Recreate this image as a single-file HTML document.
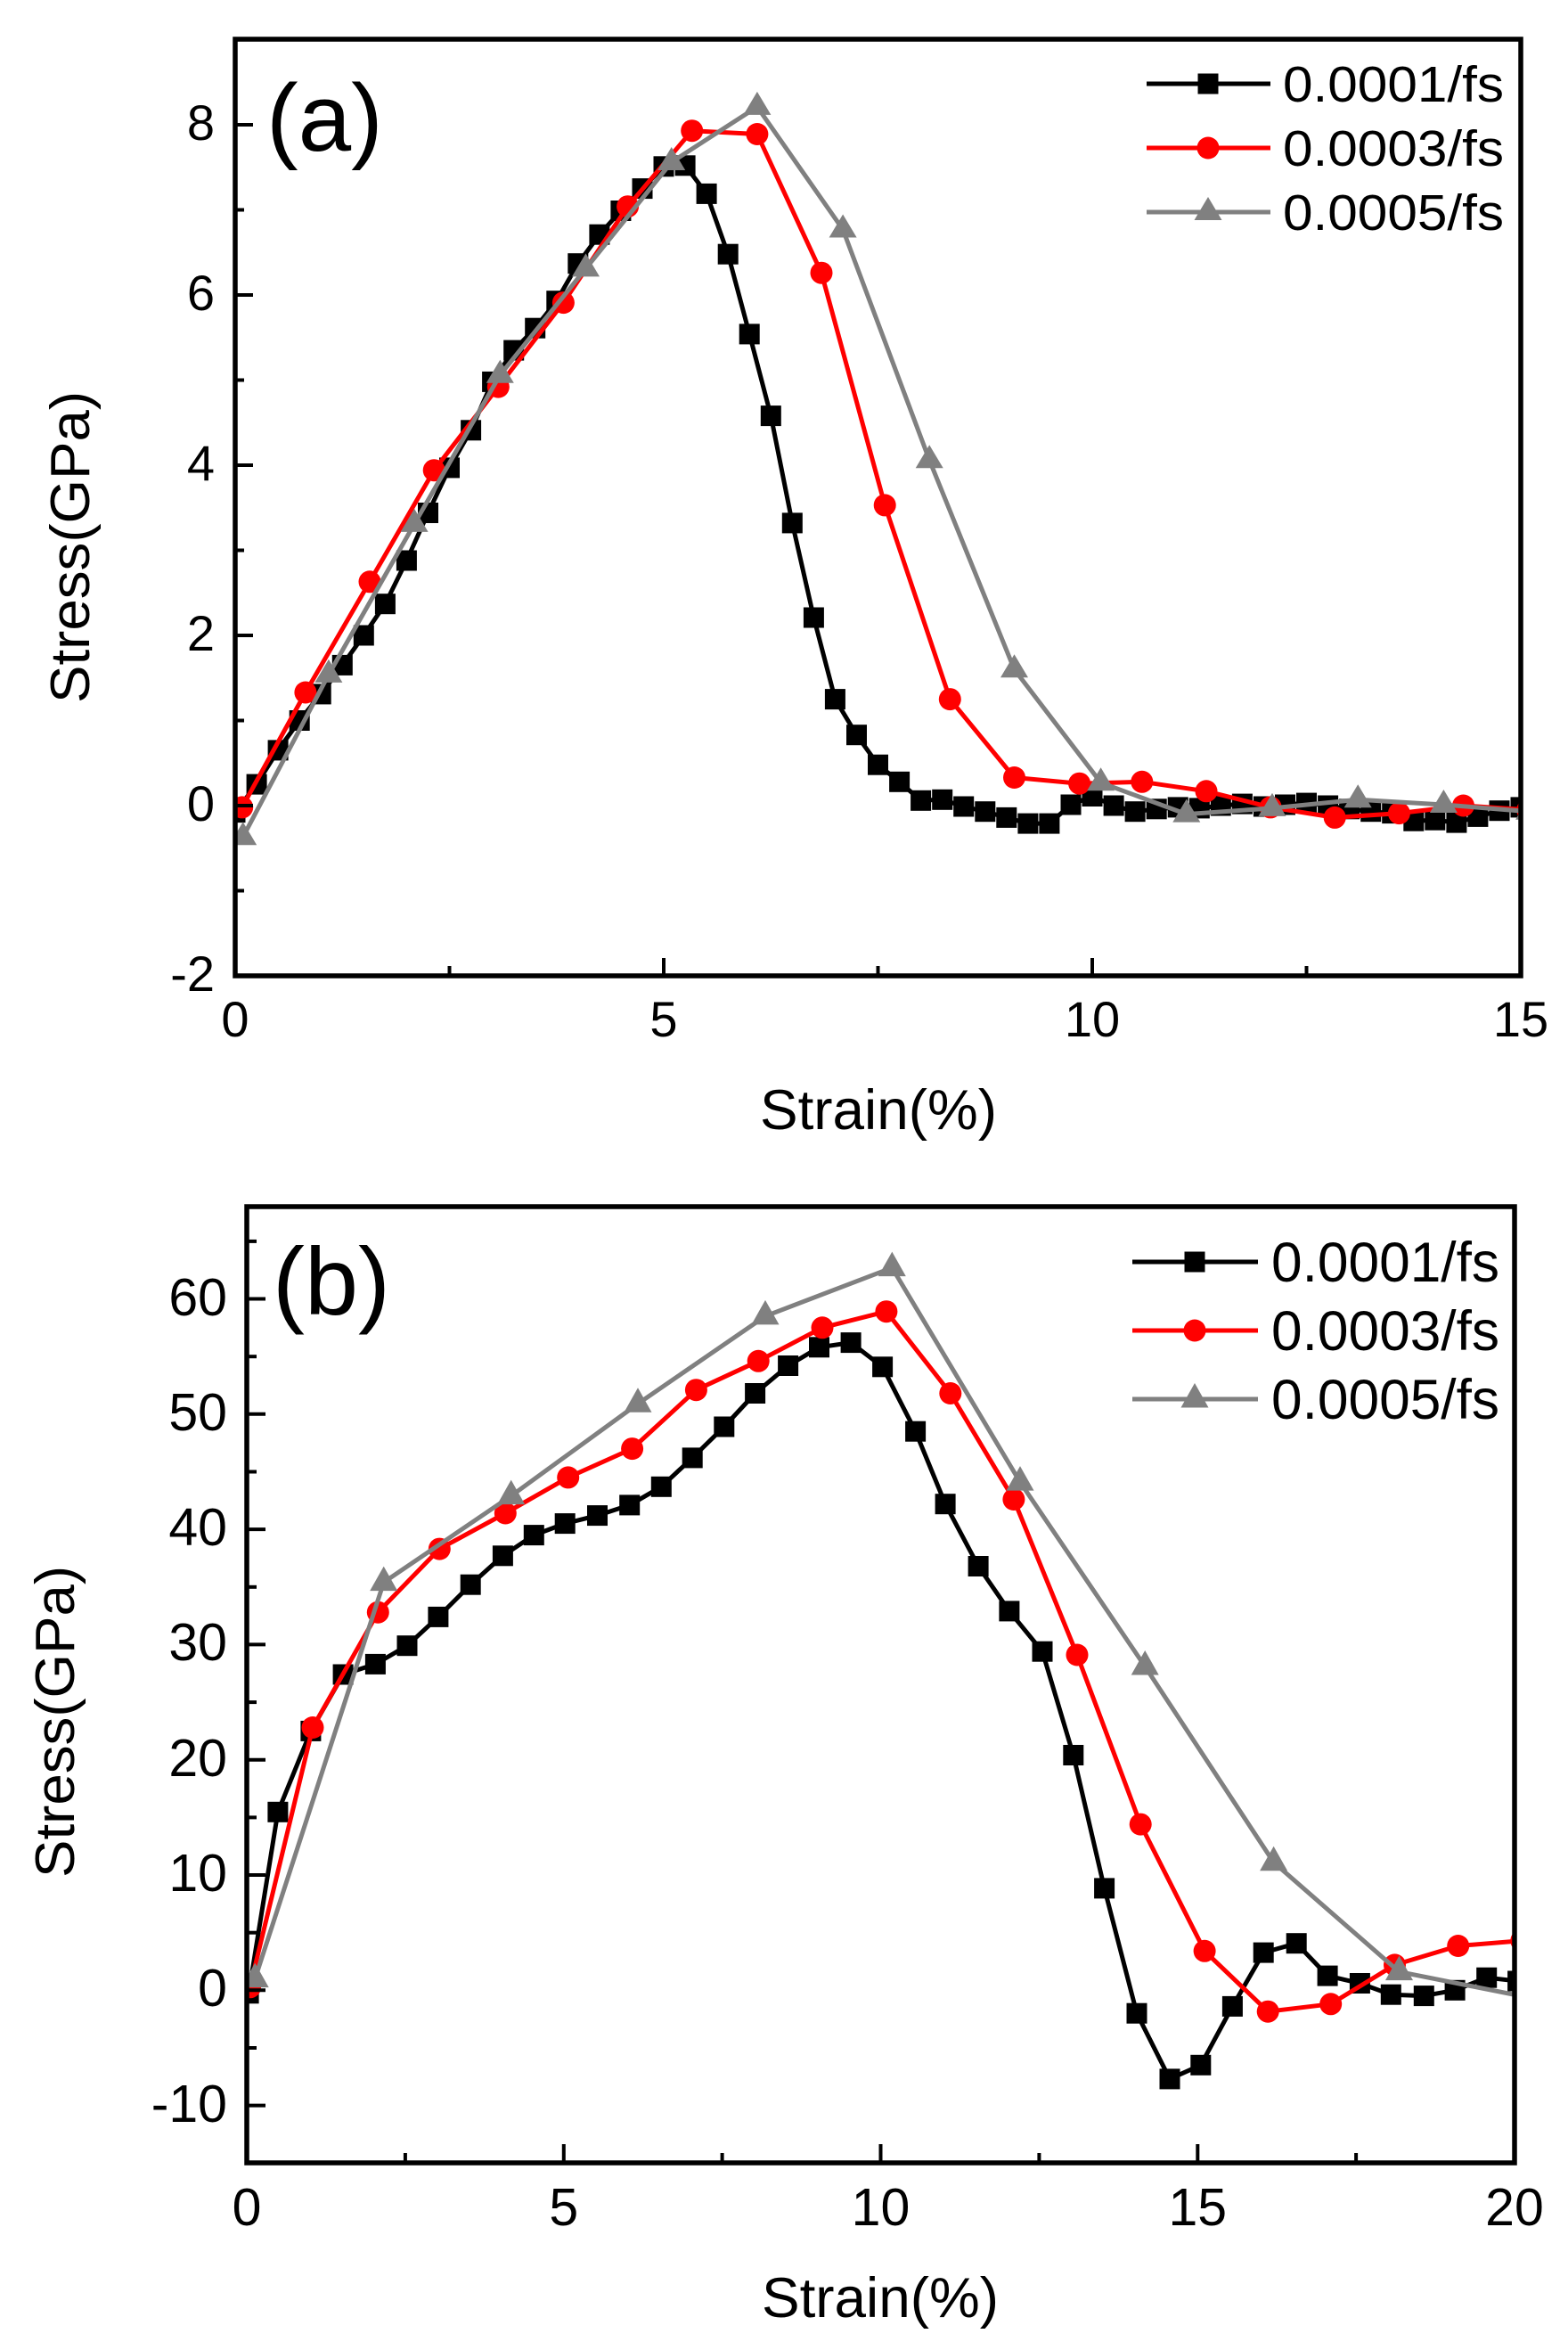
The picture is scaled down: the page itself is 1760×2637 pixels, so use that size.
<!DOCTYPE html>
<html>
<head>
<meta charset="utf-8">
<style>
html,body{margin:0;padding:0;background:#fff;}
svg{display:block;}
text{font-family:"Liberation Sans",Arial,sans-serif;fill:#000;}
</style>
</head>
<body>
<svg width="1760" height="2637" viewBox="0 0 1760 2637" xmlns="http://www.w3.org/2000/svg">
<defs>
  <g id="sq"><rect x="-11.5" y="-11.5" width="23" height="23" fill="#000"/></g>
  <g id="ci"><circle cx="0" cy="0" r="12.5" fill="#ff0000"/></g>
  <g id="tr"><path d="M0,-17 L15.5,9 L-15.5,9 Z" fill="#808080"/></g>
  <g id="trb"><path d="M0,-18 L15.5,9.5 L-15.5,9.5 Z" fill="#808080"/></g>
  <clipPath id="clipA"><rect x="264" y="44" width="1443" height="1051"/></clipPath>
  <clipPath id="clipB"><rect x="277" y="1354" width="1423" height="1073"/></clipPath>
</defs>
<rect x="0" y="0" width="1760" height="2637" fill="#fff"/>

<!-- ================= PANEL A ================= -->
<g clip-path="url(#clipA)">
  <!-- black 0.0001 -->
  <polyline fill="none" stroke="#000" stroke-width="5" stroke-linejoin="round" points="
264,911.6 288.1,880.1 312.1,841.9 336.2,808.5 360.2,778.9 384.3,746.4 408.3,713 432.4,677.7 456.4,629 480.5,575.5
504.5,524.9 528.6,482.8 552.6,428.4 576.7,393.1 600.7,368.2 624.8,337.7 648.8,295.7 672.9,263.2 696.9,236.5 721,211.6
745,186.8 769.1,185.8 793.1,217.4 817.2,285.2 841.2,374.9 865.3,466.6 889.3,586.9 913.4,693 937.4,784.6 961.5,824.7
985.5,858.2 1009.6,877.3 1033.6,898.3 1057.7,897.3 1081.7,905 1105.8,910.7 1129.8,917.4 1153.9,924.1 1177.9,924.1 1202,903
1226,893.5 1250.1,904 1274.1,910.7 1298.2,907.8 1322.2,905.9 1346.3,906.9 1370.3,904 1394.4,902.1 1418.4,905 1442.5,903
1466.5,901.1 1490.6,904 1514.6,907.8 1538.7,910.7 1562.7,912.6 1586.8,921.2 1610.8,920.2 1634.9,923.1 1658.9,916.4 1683,909.7 1707,905.9"/>
  <g>
    <use href="#sq" x="264" y="911.6"/><use href="#sq" x="288.1" y="880.1"/><use href="#sq" x="312.1" y="841.9"/><use href="#sq" x="336.2" y="808.5"/><use href="#sq" x="360.2" y="778.9"/>
    <use href="#sq" x="384.3" y="746.4"/><use href="#sq" x="408.3" y="713"/><use href="#sq" x="432.4" y="677.7"/><use href="#sq" x="456.4" y="629"/><use href="#sq" x="480.5" y="575.5"/>
    <use href="#sq" x="504.5" y="524.9"/><use href="#sq" x="528.6" y="482.8"/><use href="#sq" x="552.6" y="428.4"/><use href="#sq" x="576.7" y="393.1"/><use href="#sq" x="600.7" y="368.2"/>
    <use href="#sq" x="624.8" y="337.7"/><use href="#sq" x="648.8" y="295.7"/><use href="#sq" x="672.9" y="263.2"/><use href="#sq" x="696.9" y="236.5"/><use href="#sq" x="721" y="211.6"/>
    <use href="#sq" x="745" y="186.8"/><use href="#sq" x="769.1" y="185.8"/><use href="#sq" x="793.1" y="217.4"/><use href="#sq" x="817.2" y="285.2"/><use href="#sq" x="841.2" y="374.9"/>
    <use href="#sq" x="865.3" y="466.6"/><use href="#sq" x="889.3" y="586.9"/><use href="#sq" x="913.4" y="693"/><use href="#sq" x="937.4" y="784.6"/><use href="#sq" x="961.5" y="824.7"/>
    <use href="#sq" x="985.5" y="858.2"/><use href="#sq" x="1009.6" y="877.3"/><use href="#sq" x="1033.6" y="898.3"/><use href="#sq" x="1057.7" y="897.3"/><use href="#sq" x="1081.7" y="905"/>
    <use href="#sq" x="1105.8" y="910.7"/><use href="#sq" x="1129.8" y="917.4"/><use href="#sq" x="1153.9" y="924.1"/><use href="#sq" x="1177.9" y="924.1"/><use href="#sq" x="1202" y="903"/>
    <use href="#sq" x="1226" y="893.5"/><use href="#sq" x="1250.1" y="904"/><use href="#sq" x="1274.1" y="910.7"/><use href="#sq" x="1298.2" y="907.8"/><use href="#sq" x="1322.2" y="905.9"/>
    <use href="#sq" x="1346.3" y="906.9"/><use href="#sq" x="1370.3" y="904"/><use href="#sq" x="1394.4" y="902.1"/><use href="#sq" x="1418.4" y="905"/><use href="#sq" x="1442.5" y="903"/>
    <use href="#sq" x="1466.5" y="901.1"/><use href="#sq" x="1490.6" y="904"/><use href="#sq" x="1514.6" y="907.8"/><use href="#sq" x="1538.7" y="910.7"/><use href="#sq" x="1562.7" y="912.6"/>
    <use href="#sq" x="1586.8" y="921.2"/><use href="#sq" x="1610.8" y="920.2"/><use href="#sq" x="1634.9" y="923.1"/><use href="#sq" x="1658.9" y="916.4"/><use href="#sq" x="1683" y="909.7"/><use href="#sq" x="1707" y="905.9"/>
  </g>
  <!-- red 0.0003 -->
  <polyline fill="none" stroke="#ff0000" stroke-width="5" stroke-linejoin="round" points="
271.7,905.9 342.9,777 415,652.8 487.2,527.7 559.3,434.1 632.4,339.6 704.6,231.7 776.7,146.7 849.9,150.5 922,306.2
993.2,566.9 1066.3,784.6 1138.5,872.5 1211.6,879.2 1281.8,877.3 1354,887.8 1426.1,905.9 1498.2,917.4 1570.4,912.6 1642.5,904 1714.7,908.8"/>
  <g>
    <use href="#ci" x="271.7" y="905.9"/><use href="#ci" x="342.9" y="777"/><use href="#ci" x="415" y="652.8"/><use href="#ci" x="487.2" y="527.7"/><use href="#ci" x="559.3" y="434.1"/>
    <use href="#ci" x="632.4" y="339.6"/><use href="#ci" x="704.6" y="231.7"/><use href="#ci" x="776.7" y="146.7"/><use href="#ci" x="849.9" y="150.5"/><use href="#ci" x="922" y="306.2"/>
    <use href="#ci" x="993.2" y="566.9"/><use href="#ci" x="1066.3" y="784.6"/><use href="#ci" x="1138.5" y="872.5"/><use href="#ci" x="1211.6" y="879.2"/><use href="#ci" x="1281.8" y="877.3"/>
    <use href="#ci" x="1354" y="887.8"/><use href="#ci" x="1426.1" y="905.9"/><use href="#ci" x="1498.2" y="917.4"/><use href="#ci" x="1570.4" y="912.6"/><use href="#ci" x="1642.5" y="904"/><use href="#ci" x="1714.7" y="908.8"/>
  </g>
  <!-- gray 0.0005 -->
  <polyline fill="none" stroke="#808080" stroke-width="5" stroke-linejoin="round" points="
272.7,939.3 368.9,756.9 465.1,587.9 561.3,420.8 657.5,301.4 753.7,182 849.9,119.9 946.1,257.5 1043.2,516.3 1138.5,751.2
1235.6,878.2 1331.8,913.6 1428,906.9 1524.2,897.3 1620.4,903 1716.6,910.7"/>
  <g>
    <use href="#tr" x="272.7" y="939.3"/><use href="#tr" x="368.9" y="756.9"/><use href="#tr" x="465.1" y="587.9"/><use href="#tr" x="561.3" y="420.8"/><use href="#tr" x="657.5" y="301.4"/>
    <use href="#tr" x="753.7" y="182"/><use href="#tr" x="849.9" y="119.9"/><use href="#tr" x="946.1" y="257.5"/><use href="#tr" x="1043.2" y="516.3"/><use href="#tr" x="1138.5" y="751.2"/>
    <use href="#tr" x="1235.6" y="878.2"/><use href="#tr" x="1331.8" y="913.6"/><use href="#tr" x="1428" y="906.9"/><use href="#tr" x="1524.2" y="897.3"/><use href="#tr" x="1620.4" y="903"/><use href="#tr" x="1716.6" y="910.7"/>
  </g>
</g>

<!-- axes A -->
<g stroke="#000" stroke-width="4" fill="none">
  <!-- y major -->
  <line x1="264" y1="1095" x2="284" y2="1095"/><line x1="264" y1="904" x2="284" y2="904"/><line x1="264" y1="713" x2="284" y2="713"/>
  <line x1="264" y1="522" x2="284" y2="522"/><line x1="264" y1="331" x2="284" y2="331"/><line x1="264" y1="140" x2="284" y2="140"/>
  <!-- y minor -->
  <line x1="264" y1="999.5" x2="274" y2="999.5"/><line x1="264" y1="808.5" x2="274" y2="808.5"/><line x1="264" y1="617.5" x2="274" y2="617.5"/>
  <line x1="264" y1="426.5" x2="274" y2="426.5"/><line x1="264" y1="235.5" x2="274" y2="235.5"/>
  <!-- x major -->
  <line x1="745" y1="1095" x2="745" y2="1075"/><line x1="1226" y1="1095" x2="1226" y2="1075"/>
  <!-- x minor -->
  <line x1="504.5" y1="1095" x2="504.5" y2="1084"/><line x1="985.5" y1="1095" x2="985.5" y2="1084"/><line x1="1466.5" y1="1095" x2="1466.5" y2="1084"/>
</g>
<rect x="264" y="44" width="1443" height="1051" fill="none" stroke="#000" stroke-width="5.5"/>

<!-- tick labels A -->
<g font-size="56" text-anchor="end">
  <text x="241" y="1112">-2</text>
  <text x="241" y="921">0</text>
  <text x="241" y="730">2</text>
  <text x="241" y="539">4</text>
  <text x="241" y="348">6</text>
  <text x="241" y="157">8</text>
</g>
<g font-size="56" text-anchor="middle">
  <text x="264" y="1163">0</text>
  <text x="745" y="1163">5</text>
  <text x="1226" y="1163">10</text>
  <text x="1707" y="1163">15</text>
</g>
<text x="986" y="1267" font-size="63" text-anchor="middle" textLength="266" lengthAdjust="spacingAndGlyphs">Strain(%)</text>
<text transform="translate(100,614) rotate(-90)" x="0" y="0" font-size="62" text-anchor="middle" textLength="350" lengthAdjust="spacingAndGlyphs">Stress(GPa)</text>
<text x="299" y="169" font-size="107">(a)</text>

<!-- legend A -->
<line x1="1287" y1="94" x2="1426" y2="94" stroke="#000" stroke-width="5"/>
<use href="#sq" x="1356" y="94"/>
<line x1="1287" y1="166" x2="1426" y2="166" stroke="#ff0000" stroke-width="5"/>
<use href="#ci" x="1356" y="166"/>
<line x1="1287" y1="238" x2="1426" y2="238" stroke="#808080" stroke-width="5"/>
<use href="#tr" x="1356" y="238"/>
<g font-size="57">
  <text x="1440" y="114" textLength="248" lengthAdjust="spacingAndGlyphs">0.0001/fs</text>
  <text x="1440" y="186" textLength="248" lengthAdjust="spacingAndGlyphs">0.0003/fs</text>
  <text x="1440" y="258" textLength="248" lengthAdjust="spacingAndGlyphs">0.0005/fs</text>
</g>

<!-- ================= PANEL B ================= -->
<g clip-path="url(#clipB)">
  <polyline fill="none" stroke="#000" stroke-width="5" stroke-linejoin="round" points="
279.1,2236.8 311.9,2033.3 348.9,1942.4 385.1,1879 421.4,1867.4 457,1846.7 491.9,1814.4 528.2,1778.2 564.4,1745.8 599.3,1722.6
634.2,1709.6 670.5,1700.6 706.7,1688.9 742.3,1668.3 777.2,1635.9 812.8,1601 847.6,1563.5 884.6,1532.5 919.5,1511.8 955.1,1506.6
990.6,1533.8 1027.6,1606.2 1061.1,1687.7 1098.1,1757.5 1132.9,1807.9 1170,1853.2 1204.8,1969.5 1239.6,2118.9 1276,2259.2 1313,2332.9
1347.8,2317.3 1383.4,2251.4 1418.2,2191.1 1455.2,2180.7 1490.1,2217.1 1526.4,2225.5 1561.3,2238.2 1598.3,2239.6 1633.1,2233.3 1668.7,2219.2 1703.6,2223"/>
  <g>
    <use href="#sq" x="279.1" y="2236.8"/><use href="#sq" x="311.9" y="2033.3"/><use href="#sq" x="348.9" y="1942.4"/><use href="#sq" x="385.1" y="1879"/><use href="#sq" x="421.4" y="1867.4"/>
    <use href="#sq" x="457" y="1846.7"/><use href="#sq" x="491.9" y="1814.4"/><use href="#sq" x="528.2" y="1778.2"/><use href="#sq" x="564.4" y="1745.8"/><use href="#sq" x="599.3" y="1722.6"/>
    <use href="#sq" x="634.2" y="1709.6"/><use href="#sq" x="670.5" y="1700.6"/><use href="#sq" x="706.7" y="1688.9"/><use href="#sq" x="742.3" y="1668.3"/><use href="#sq" x="777.2" y="1635.9"/>
    <use href="#sq" x="812.8" y="1601"/><use href="#sq" x="847.6" y="1563.5"/><use href="#sq" x="884.6" y="1532.5"/><use href="#sq" x="919.5" y="1511.8"/><use href="#sq" x="955.1" y="1506.6"/>
    <use href="#sq" x="990.6" y="1533.8"/><use href="#sq" x="1027.6" y="1606.2"/><use href="#sq" x="1061.1" y="1687.7"/><use href="#sq" x="1098.1" y="1757.5"/><use href="#sq" x="1132.9" y="1807.9"/>
    <use href="#sq" x="1170" y="1853.2"/><use href="#sq" x="1204.8" y="1969.5"/><use href="#sq" x="1239.6" y="2118.9"/><use href="#sq" x="1276" y="2259.2"/><use href="#sq" x="1313" y="2332.9"/>
    <use href="#sq" x="1347.8" y="2317.3"/><use href="#sq" x="1383.4" y="2251.4"/><use href="#sq" x="1418.2" y="2191.1"/><use href="#sq" x="1455.2" y="2180.7"/><use href="#sq" x="1490.1" y="2217.1"/>
    <use href="#sq" x="1526.4" y="2225.5"/><use href="#sq" x="1561.3" y="2238.2"/><use href="#sq" x="1598.3" y="2239.6"/><use href="#sq" x="1633.1" y="2233.3"/><use href="#sq" x="1668.7" y="2219.2"/><use href="#sq" x="1703.6" y="2223"/>
  </g>
  <polyline fill="none" stroke="#ff0000" stroke-width="5" stroke-linejoin="round" points="
280.6,2229.8 351,1938.5 424.3,1809.2 493.3,1738.1 567.3,1698 637.7,1657.9 709.6,1625.6 781.4,1559.7 851.2,1527.3 923,1489.8
994.9,1471.7 1066.8,1563.5 1137.9,1682.5 1209,1857 1280.2,2047.1 1352.1,2189.3 1423.2,2257.2 1493.7,2248.8 1565.5,2204.9 1636.7,2183.5 1707.8,2177.7"/>
  <g>
    <use href="#ci" x="280.6" y="2229.8"/><use href="#ci" x="351" y="1938.5"/><use href="#ci" x="424.3" y="1809.2"/><use href="#ci" x="493.3" y="1738.1"/><use href="#ci" x="567.3" y="1698"/>
    <use href="#ci" x="637.7" y="1657.9"/><use href="#ci" x="709.6" y="1625.6"/><use href="#ci" x="781.4" y="1559.7"/><use href="#ci" x="851.2" y="1527.3"/><use href="#ci" x="923" y="1489.8"/>
    <use href="#ci" x="994.9" y="1471.7"/><use href="#ci" x="1066.8" y="1563.5"/><use href="#ci" x="1137.9" y="1682.5"/><use href="#ci" x="1209" y="1857"/><use href="#ci" x="1280.2" y="2047.1"/>
    <use href="#ci" x="1352.1" y="2189.3"/><use href="#ci" x="1423.2" y="2257.2"/><use href="#ci" x="1493.7" y="2248.8"/><use href="#ci" x="1565.5" y="2204.9"/><use href="#ci" x="1636.7" y="2183.5"/><use href="#ci" x="1707.8" y="2177.7"/>
  </g>
  <polyline fill="none" stroke="#808080" stroke-width="5" stroke-linejoin="round" points="
286.2,2220.6 430.7,1775.6 573.7,1678.6 716,1575.2 859,1476.9 1001.3,1422.6 1145,1663.1 1285.2,1870 1429.6,2089.8 1570.5,2212.6 1713.5,2241"/>
  <g>
    <use href="#trb" x="286.2" y="2220.6"/><use href="#trb" x="430.7" y="1775.6"/><use href="#trb" x="573.7" y="1678.6"/><use href="#trb" x="716" y="1575.2"/><use href="#trb" x="859" y="1476.9"/>
    <use href="#trb" x="1001.3" y="1422.6"/><use href="#trb" x="1145" y="1663.1"/><use href="#trb" x="1285.2" y="1870"/><use href="#trb" x="1429.6" y="2089.8"/><use href="#trb" x="1570.5" y="2212.6"/>
  </g>
</g>

<!-- axes B -->
<g stroke="#000" stroke-width="4" fill="none">
  <line x1="277" y1="2362.6" x2="298" y2="2362.6"/><line x1="277" y1="2233.3" x2="298" y2="2233.3"/><line x1="277" y1="2104" x2="298" y2="2104"/>
  <line x1="277" y1="1974.7" x2="298" y2="1974.7"/><line x1="277" y1="1845.4" x2="298" y2="1845.4"/><line x1="277" y1="1716.1" x2="298" y2="1716.1"/>
  <line x1="277" y1="1586.8" x2="298" y2="1586.8"/><line x1="277" y1="1457.5" x2="298" y2="1457.5"/>
  <line x1="277" y1="2298" x2="288" y2="2298"/><line x1="277" y1="2168.7" x2="288" y2="2168.7"/><line x1="277" y1="2039.4" x2="288" y2="2039.4"/>
  <line x1="277" y1="1910.1" x2="288" y2="1910.1"/><line x1="277" y1="1780.8" x2="288" y2="1780.8"/><line x1="277" y1="1651.5" x2="288" y2="1651.5"/>
  <line x1="277" y1="1522.2" x2="288" y2="1522.2"/><line x1="277" y1="1392.9" x2="288" y2="1392.9"/>
  <line x1="632.8" y1="2427" x2="632.8" y2="2406"/><line x1="988.5" y1="2427" x2="988.5" y2="2406"/><line x1="1344.3" y1="2427" x2="1344.3" y2="2406"/>
  <line x1="454.9" y1="2427" x2="454.9" y2="2416"/><line x1="810.6" y1="2427" x2="810.6" y2="2416"/><line x1="1166.4" y1="2427" x2="1166.4" y2="2416"/><line x1="1522.1" y1="2427" x2="1522.1" y2="2416"/>
</g>
<rect x="277" y="1354" width="1423" height="1073" fill="none" stroke="#000" stroke-width="5.5"/>

<g font-size="59" text-anchor="end">
  <text x="255" y="2381">-10</text>
  <text x="255" y="2251">0</text>
  <text x="255" y="2122">10</text>
  <text x="255" y="1993">20</text>
  <text x="255" y="1863">30</text>
  <text x="255" y="1734">40</text>
  <text x="255" y="1605">50</text>
  <text x="255" y="1476">60</text>
</g>
<g font-size="59" text-anchor="middle">
  <text x="277" y="2497">0</text>
  <text x="632.8" y="2497">5</text>
  <text x="988.5" y="2497">10</text>
  <text x="1344.3" y="2497">15</text>
  <text x="1700" y="2497">20</text>
</g>
<text x="988" y="2600" font-size="63" text-anchor="middle" textLength="266" lengthAdjust="spacingAndGlyphs">Strain(%)</text>
<text transform="translate(83,1932) rotate(-90)" x="0" y="0" font-size="62" text-anchor="middle" textLength="350" lengthAdjust="spacingAndGlyphs">Stress(GPa)</text>
<text x="306" y="1475" font-size="108">(b)</text>

<!-- legend B -->
<line x1="1271" y1="1416" x2="1412" y2="1416" stroke="#000" stroke-width="5"/>
<use href="#sq" x="1341" y="1416"/>
<line x1="1271" y1="1493" x2="1412" y2="1493" stroke="#ff0000" stroke-width="5"/>
<use href="#ci" x="1341" y="1493"/>
<line x1="1271" y1="1570" x2="1412" y2="1570" stroke="#808080" stroke-width="5"/>
<use href="#trb" x="1341" y="1570"/>
<g font-size="63">
  <text x="1427" y="1438" textLength="256" lengthAdjust="spacingAndGlyphs">0.0001/fs</text>
  <text x="1427" y="1515" textLength="256" lengthAdjust="spacingAndGlyphs">0.0003/fs</text>
  <text x="1427" y="1592" textLength="256" lengthAdjust="spacingAndGlyphs">0.0005/fs</text>
</g>
</svg>
</body>
</html>
